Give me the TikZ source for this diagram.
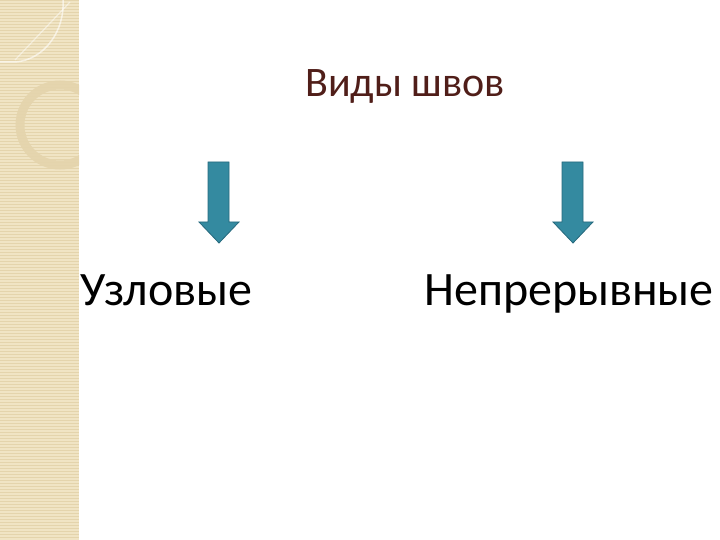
\documentclass[tikz,border=0pt]{standalone}
\usepackage{fontspec}
\setmainfont{Carlito}
\definecolor{strip}{RGB}{240,228,196}
\definecolor{stripline}{RGB}{228,212,172}
\definecolor{arrowc}{RGB}{52,138,160}
\definecolor{arrowd}{RGB}{38,105,125}
\definecolor{titlec}{RGB}{80,30,25}
\tikzset{blockarrow/.style={fill=arrowc,draw=arrowd,line width=0.8pt},
 word/.style={anchor=base west,inner sep=0pt,font=\fontsize{48}{52}\selectfont}}
\begin{document}
\begin{tikzpicture}[x=1pt,y=-1pt]
\useasboundingbox (0,0) rectangle (720,540);
\fill[strip] (0,0) rectangle (79,540);
\foreach \y in {0,3,...,540} \draw[stripline,line width=0.6pt] (0,\y) -- (79,\y);
\draw[white,opacity=0.6,line width=1.5pt] (0,62) -- (15,62) .. controls (45,60) and (65,30) .. (63,0);
\draw[white,opacity=0.5,line width=1.2pt] (15,60) -- (70,2);
\begin{scope}
\clip (0,0) rectangle (79,540);
\draw[stripline,line width=9pt,opacity=0.9] (60,125) circle[radius=40];
\end{scope}
\node[anchor=base west,inner sep=0pt,text=titlec,font=\fontsize{42}{46}\selectfont] (title) at (305,97) {Виды швов};
\node[word] (uzl) at (80,305) {Узловые};
\node[word] (nep) at (424,305) {Непрерывные};
\draw[blockarrow] (208,162) -- (229,162) -- (229,222) -- (239,222) -- (219,243) -- (199,222) -- (208,222) -- cycle;
\draw[blockarrow] (562,162) -- (583,162) -- (583,222) -- (593,222) -- (573,243) -- (553,222) -- (562,222) -- cycle;
\end{tikzpicture}
\end{document}
